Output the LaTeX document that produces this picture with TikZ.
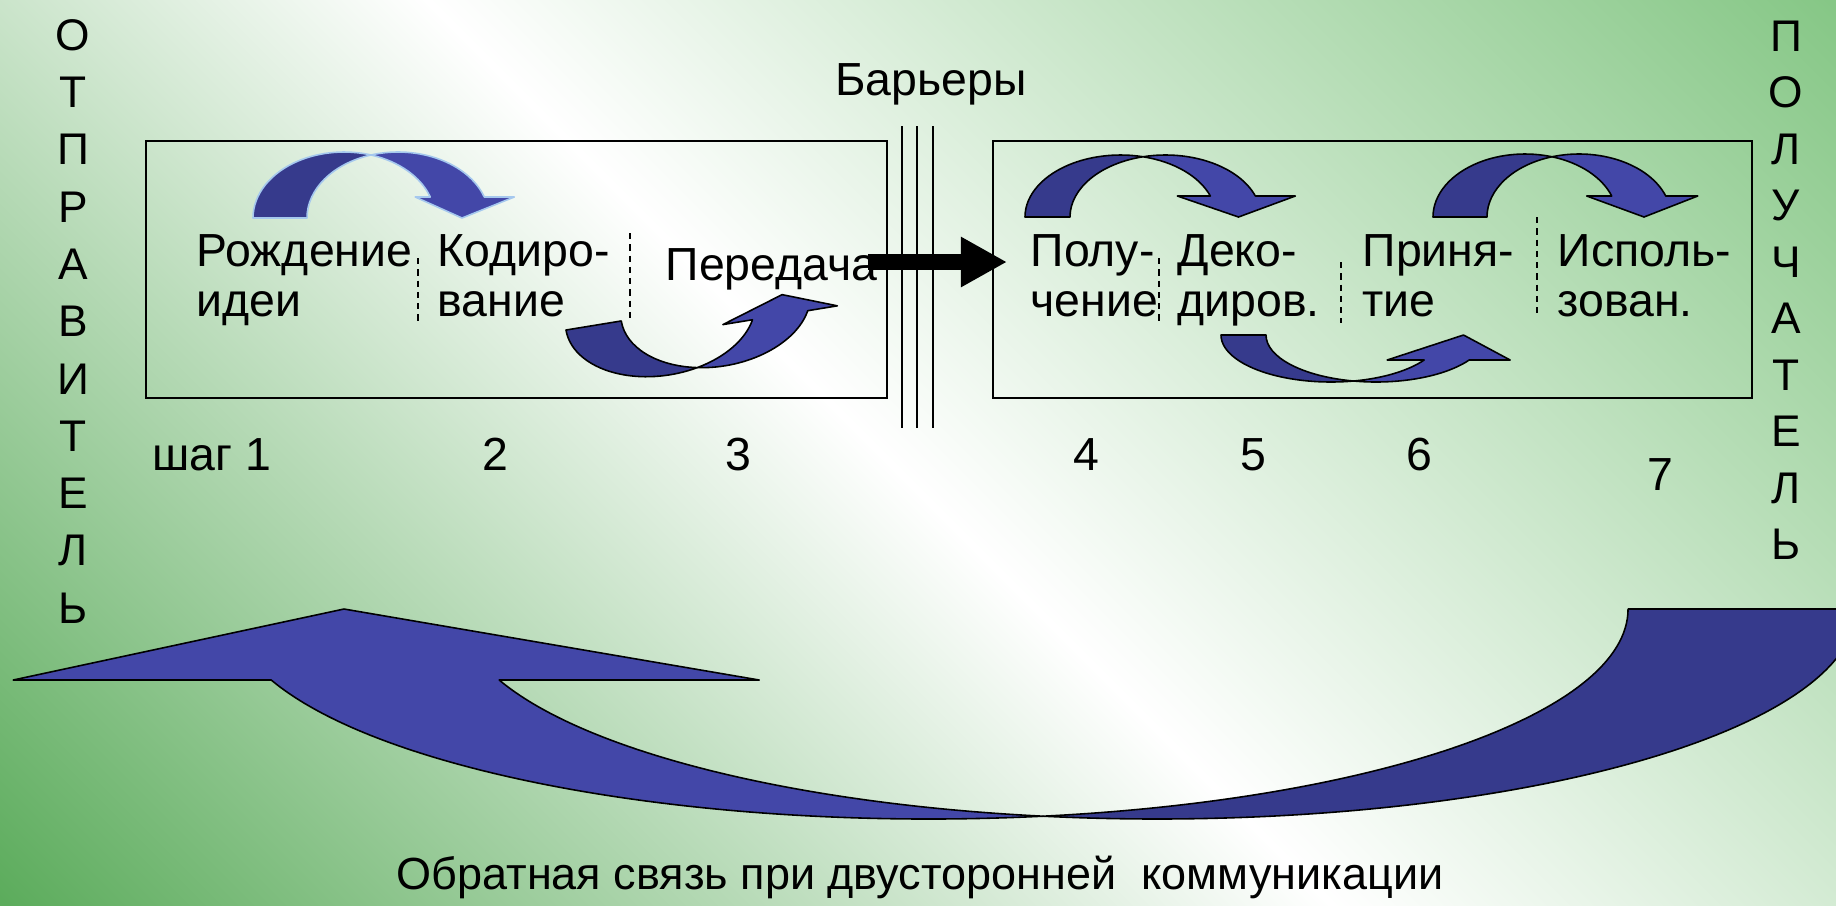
\documentclass[tikz,border=0pt]{standalone}
\usepackage{fontspec}
\setmainfont{Liberation Sans}
\usepackage{tikz}
\usetikzlibrary{arrows.meta}

\definecolor{bgdark}{RGB}{92,172,92}
\definecolor{bgtop}{RGB}{134,199,134}
\definecolor{backblue}{RGB}{54,58,140}
\definecolor{frontblue}{RGB}{67,71,168}
\definecolor{glowblue}{RGB}{165,200,238}

\pgfdeclarehorizontalshading{slidebg}{100bp}{color(0bp)=(bgdark); color(14.6bp)=(bgdark); color(49bp)=(white); color(85.4bp)=(bgtop); color(100bp)=(bgtop)}

% bent block arrow: [transform]{origin}{a}{b}{w}{h}{e1}{e2}
\newcommand{\bentarrow}[8][]{%
  \begin{scope}[shift={(#2)},draw=black,#1,yscale=-1]
    \pgfmathsetmacro{\ta}{acos(#5/(2*#3))}
    \pgfmathsetmacro{\tb}{asin(#6/#4)}
    \filldraw[arrow back] (0,0)
      arc[start angle=180,end angle=\ta,x radius=#3,y radius=#4]
      arc[start angle=180-\ta,end angle=180,x radius=#3,y radius=#4] -- cycle;
    \filldraw[arrow front] ({#3+#3*cos(\ta)},{#4*sin(\ta)})
      arc[start angle=180-\ta,end angle=\tb,x radius=#3,y radius=#4]
      -- ++(#8,0) -- ({2*#3+#5/2},0)
      -- ({#3+#3*cos(\tb)-#7},#6) -- ({#3+#3*cos(\tb)},#6)
      arc[start angle=\tb,end angle=\ta,x radius=#3,y radius=#4] -- cycle;
  \end{scope}}

\begin{document}
\begin{tikzpicture}[x=0.01cm,y=-0.01cm]

	\tikzstyle arrow back=[fill=backblue, line width=0.45pt, line join=round];
	\tikzstyle arrow front=[fill=frontblue, line width=0.45pt, line join=round];
	\tikzstyle frame lines=[line width=0.45pt];
	\tikzstyle barrier lines=[line width=0.45pt];
	\tikzstyle split lines=[dash pattern=on 1.8pt off 1.4pt, line width=0.35pt];
	\tikzstyle slide text=[inner sep=0pt, font=\fontsize{13.2}{14}\selectfont];
	\tikzstyle stage text=[slide text, anchor=base west, align=left];
	\tikzstyle side letter=[inner sep=0pt, font=\fontsize{12.6}{12.6}\selectfont];

	\useasboundingbox (0,0) rectangle (1836,905);
	\shade[shading=slidebg, shading angle=45] (0,0) rectangle (1836,905);
	\clip (0,0) rectangle (1836,905);

	\draw[frame lines] (146,141) rectangle (887,398);
	\draw[frame lines] (993,141) rectangle (1752,398);
		\foreach \x in {902,917,933}
			\draw[barrier lines] (\x,126) -- (\x,428);
		\foreach \x/\ya/\yb in {418/258/323,630/233/323,1159/258/323,1341/262/323,1537/217/315}
			\draw[split lines] (\x,\ya) -- (\x,\yb);

	\bentarrow[draw=glowblue, line width=0.9pt]{253,218}{91}{66}{54}{21}{15}{30}
	\bentarrow[rotate=9.3,yscale=-1]{566,330}{95.5}{61}{56}{20}{30}{30}
	\bentarrow{1025,217}{95.5}{62}{45}{21}{33}{40}
	\bentarrow[yscale=-1]{1221,335}{110}{47}{45}{25}{37}{41}
	\bentarrow{1433,217}{92}{63}{54}{21}{25}{32}
	\bentarrow[xscale=-1,yscale=-1]{1856,609}{699}{210}{228}{71}{260}{258}

	% anchor is the baseline of the second line
	\node[stage text] (idea) at (196,316) {Рождение\\идеи};
	\node[stage text] (encode) at (437,316) {Кодиро-\\вание};
	\node[slide text, anchor=base west] (send) at (665,280) {Передача};
	\node[stage text] (receive) at (1030,316) {Полу-\\чение};
	\node[stage text] (decode) at (1177,316) {Деко-\\диров.};
	\node[stage text] (accept) at (1362,316) {Приня-\\тие};
	\node[stage text] (apply) at (1557,316) {Исполь-\\зован.};

	\coordinate (sendout) at (868,262);
	\coordinate (recvin) at (1007,262);
	\draw[line width=4.55pt, -{Triangle[length=0.46cm, width=0.47cm]}] (sendout) -- (recvin);

	\node[slide text, anchor=base] (barriers) at (931,95) {Барьеры};
	\node[slide text, anchor=base west] (stepone) at (152,470) {шаг 1};
		\foreach \x/\n in {495/2,738/3,1086/4,1253/5,1419/6}
			\node[slide text, anchor=base] (step\n) at (\x,470) {\n};
	\node[slide text, anchor=base] (step7) at (1660,490) {7};

		\foreach \ch [count=\i] in {О,Т,П,Р,А,В,И,Т,Е,Л,Ь}
			\node[side letter] (sender\i) at (73,{35+57.3*(\i-1)}) {\ch};
		\foreach \ch [count=\i] in {П,О,Л,У,Ч,А,Т,Е,Л,Ь}
			\node[side letter] (receiver\i) at (1786,{36+56.5*(\i-1)}) {\ch};

	\node[slide text, anchor=base, font=\fontsize{12.8}{14}\selectfont] (feedback) at (920,889) {Обратная связь при двусторонней\ \ коммуникации};

\end{tikzpicture}
\end{document}
